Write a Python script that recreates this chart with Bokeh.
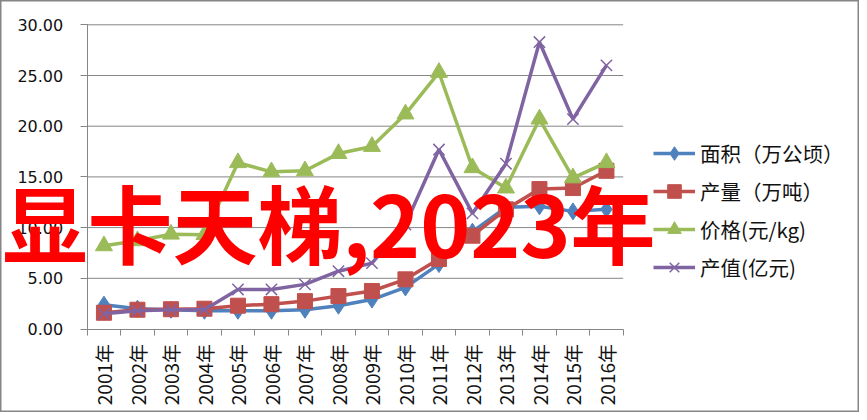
from bokeh.plotting import figure
from bokeh.models import (FixedTicker, Legend, LegendItem, Label, Range1d,
                          NumeralTickFormatter)
from bokeh.embed import file_html
from bokeh.resources import INLINE

# ---- data ----
years = ["2001年", "2002年", "2003年", "2004年", "2005年", "2006年", "2007年", "2008年",
         "2009年", "2010年", "2011年", "2012年", "2013年", "2014年", "2015年", "2016年"]
area = [2.4, 2.0, 1.9, 1.8, 1.8, 1.8, 1.9, 2.3, 2.9, 4.1, 6.4, 9.6, 12.0, 12.1, 11.6, 11.8]
output = [1.6, 1.9, 1.95, 2.0, 2.3, 2.45, 2.75, 3.25, 3.75, 4.9, 6.9, 9.2, 11.8, 13.8, 13.9, 15.6]
price = [8.2, 8.7, 9.35, 9.3, 16.4, 15.5, 15.6, 17.3, 18.0, 21.2, 25.3, 15.9, 13.9, 20.7, 14.9, 16.4]
value_ = [1.5, 1.8, 1.9, 1.9, 3.9, 3.9, 4.4, 5.7, 6.5, 10.3, 17.7, 11.4, 16.3, 28.3, 20.7, 26.0]
y_ticks = [0, 5, 10, 15, 20, 25, 30]
series_names = ["面积（万公顷）", "产量（万吨）", "价格(元/kg)", "产值(亿元)"]
overlay_text = "显卡天梯,2023年"

xs = list(range(1, len(years) + 1))
x_lo, x_hi = 0.5, len(years) + 0.5
y_lo, y_hi = y_ticks[0], y_ticks[-1]

# layout: the frame fills the whole figure; plot area placed via the ranges
W, H = 859, 412
left_px, right_px, top_px, bottom_px = 86.7, 622.7, 24.3, 328.5
xs_px = (right_px - left_px) / (x_hi - x_lo)
ys_px = (bottom_px - top_px) / (y_hi - y_lo)
xr = Range1d(x_lo - left_px / xs_px, x_lo - left_px / xs_px + W / xs_px)
yr = Range1d(y_hi + top_px / ys_px - H / ys_px, y_hi + top_px / ys_px)

p = figure(width=W, height=H, output_backend="svg", toolbar_location=None,
           x_range=xr, y_range=yr,
           min_border_left=0, min_border_top=0, min_border_right=0, min_border_bottom=0)
p.outline_line_color = "#868686"
p.outline_line_width = 2
p.background_fill_color = "white"
p.border_fill_color = "white"
p.xgrid.visible = False
p.ygrid.visible = False

# y axis
yax = p.yaxis[0]
yax.fixed_location = x_lo
yax.bounds = (y_lo, y_hi)
yax.ticker = FixedTicker(ticks=y_ticks)
yax.formatter = NumeralTickFormatter(format="0.00")
yax.axis_line_color = "#868686"
yax.major_tick_line_color = "#868686"
yax.major_tick_out = 7
yax.major_tick_in = 0
yax.minor_tick_line_color = None
yax.major_label_text_font = "DejaVu Sans"
yax.major_label_text_font_size = "16px"
yax.major_label_text_color = "#111111"
yax.major_label_standoff = 17

# x axis
xax = p.xaxis[0]
xax.fixed_location = y_lo
xax.bounds = (x_lo, x_hi)
xax.ticker = FixedTicker(ticks=xs, minor_ticks=[i + 0.5 for i in range(len(years) + 1)])
xax.major_label_overrides = {x: y for x, y in zip(xs, years)}
xax.major_label_orientation = 3.14159265 / 2
xax.axis_line_color = "#868686"
xax.major_tick_line_color = None
xax.major_tick_out = 0
xax.major_tick_in = 0
xax.minor_tick_line_color = "#868686"
xax.minor_tick_out = 6
xax.minor_tick_in = 0
xax.major_label_text_font = "Noto Sans CJK SC"
xax.major_label_text_font_size = "19px"
xax.major_label_text_color = "#111111"
xax.major_label_standoff = 9

# horizontal gridlines across the plot area
grid_vals = [v for v in y_ticks if v != y_lo]
p.segment(x0=[x_lo] * len(grid_vals), x1=[x_hi] * len(grid_vals), y0=grid_vals, y1=grid_vals,
          line_color="#868686", line_width=1)

blue, red, green, purple = "#4F81BD", "#C0504D", "#9BBB59", "#8064A2"

l1 = p.line(xs, area, line_color=blue, line_width=3.5)
m1 = p.scatter(xs, area, marker="diamond", size=17, fill_color=blue, line_color=blue)
l2 = p.line(xs, output, line_color=red, line_width=3.5)
m2 = p.scatter(xs, output, marker="square", size=15, fill_color=red, line_color=red)
l3 = p.line(xs, price, line_color=green, line_width=3.5)
m3 = p.scatter(xs, price, marker="triangle", size=17, fill_color=green, line_color=green)
l4 = p.line(xs, value_, line_color=purple, line_width=3.5)
m4 = p.scatter(xs, value_, marker="x", size=16, line_color=purple, line_width=1.5)

legend = Legend(items=[
    LegendItem(label=series_names[0], renderers=[l1, m1]),
    LegendItem(label=series_names[1], renderers=[l2, m2]),
    LegendItem(label=series_names[2], renderers=[l3, m3]),
    LegendItem(label=series_names[3], renderers=[l4, m4]),
], location=(653, 128))
legend.border_line_color = None
legend.background_fill_alpha = 0
legend.padding = 0
legend.margin = 0
legend.spacing = 4
legend.glyph_width = 42
legend.glyph_height = 34
legend.label_height = 20
legend.label_standoff = 5
legend.label_text_font = "Noto Sans CJK SC"
legend.label_text_font_size = "20.5px"
legend.label_text_color = "#111111"
p.add_layout(legend, "center")

p.add_layout(Label(x=328.5, y=192, x_units="screen", y_units="screen", text=overlay_text,
                   text_align="center", text_baseline="middle", text_font="Noto Sans CJK SC",
                   text_font_style="bold", text_font_size="85px", text_color="#FF0000"))

open("out.html", "w").write(file_html(p, INLINE))
